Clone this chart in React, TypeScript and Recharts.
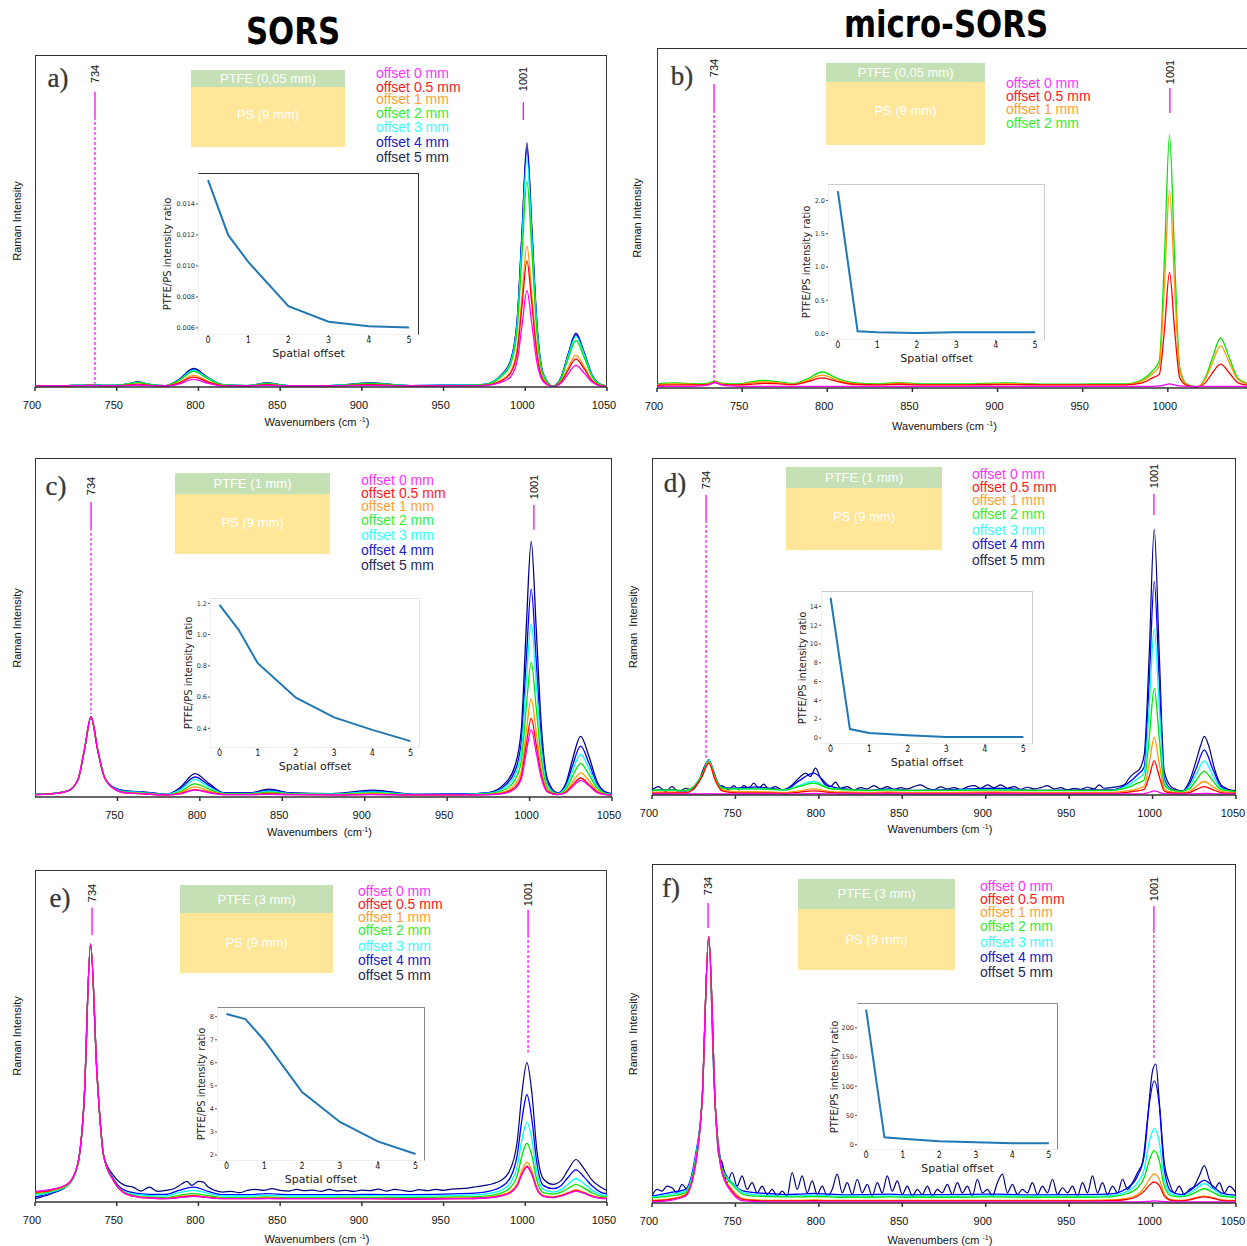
import React from "react";
import { LineChart, Line, XAxis, YAxis, ReferenceLine } from "recharts";

// shared wavenumber grid (cm-1) for the smooth spectra
const WAVENUMBERS = [
  700, 710, 720, 726, 730, 734, 738, 742, 748, 755, 763, 770, 780, 788, 797, 806, 815, 830, 842, 855,
  880, 905, 930, 960, 975, 985, 991, 995, 998, 1001, 1004, 1007, 1011, 1017, 1022, 1026, 1031, 1036,
  1041, 1046, 1050,
];

// a) SORS, PTFE 0.05 mm  (intensity as % of panel height)
const A_OFF0 = [0.3,0.3,0.3,0.4,0.4,0.5,0.4,0.3,0.3,0.4,0.6,0.4,0.3,0.9,2.3,1.1,0.3,0.3,0.5,0.3,0.3,0.5,0.3,0.3,0.4,1.4,3.1,7.8,18.5,29,19,7.8,1.6,0.1,1.2,3.8,6.5,4.2,1.4,0.3,0.2];
const A_OFF05 = [0.3,0.3,0.3,0.4,0.4,0.5,0.4,0.4,0.4,0.5,0.8,0.5,0.3,1.2,3,1.5,0.4,0.3,0.7,0.3,0.3,0.7,0.3,0.4,0.5,1.8,4.2,10.3,24.4,38,25,10.4,2.1,0.1,1.6,4.9,8.5,5.5,1.8,0.4,0.2];
const A_OFF1 = [0.3,0.3,0.3,0.4,0.4,0.5,0.4,0.4,0.4,0.5,0.9,0.5,0.3,1.4,3.5,1.7,0.5,0.3,0.7,0.3,0.3,0.7,0.3,0.4,0.5,2,4.6,11.6,27.3,42.5,28,11.6,2.3,0.1,1.8,5.6,9.5,6.2,2,0.5,0.2];
const A_OFF2 = [0.4,0.4,0.4,0.5,0.5,0.6,0.5,0.5,0.5,0.7,1.3,0.7,0.4,1.9,4.7,2.4,0.6,0.4,1,0.4,0.4,1,0.4,0.5,0.7,3,6.8,17,40,62,41,17,3.4,0.2,2.6,8.2,14,9,3,0.7,0.3];
const A_OFF3 = [0.4,0.4,0.4,0.5,0.5,0.7,0.6,0.5,0.5,0.8,1.4,0.8,0.4,2,5.1,2.6,0.7,0.4,1.1,0.4,0.4,1.1,0.4,0.6,0.8,3.3,7.5,18.8,44,69,45,18.8,3.8,0.2,2.8,8.9,15.2,9.9,3.3,0.8,0.3];
const A_OFF4 = [0.4,0.4,0.4,0.5,0.5,0.7,0.6,0.5,0.5,0.8,1.4,0.8,0.4,2.1,5.4,2.7,0.7,0.4,1.1,0.4,0.4,1.1,0.4,0.6,0.8,3.4,7.8,19.6,46,72,47,19.6,3.9,0.2,2.9,9.3,15.8,10.2,3.4,0.8,0.3];
const A_OFF5 = [0.4,0.4,0.4,0.5,0.5,0.7,0.6,0.5,0.5,0.8,1.5,0.8,0.4,2.2,5.6,2.8,0.7,0.4,1.2,0.4,0.4,1.2,0.4,0.6,0.8,3.5,8,20,47,73.5,48,20,4,0.2,3,9.5,16.2,10.5,3.5,0.8,0.3];

// b) micro-SORS, PTFE 0.05 mm
const B_OFF0 = [0.5,0.5,0.5,0.6,0.9,1.6,0.9,0.6,0.5,0.5,0.5,0.5,0.5,0.5,0.5,0.5,0.5,0.5,0.5,0.5,0.5,0.5,0.5,0.5,0.5,0.5,0.5,0.6,0.9,1.2,0.9,0.6,0.5,0.5,0.5,0.5,0.5,0.5,0.5,0.5,0.5];
const B_OFF05 = [0.8,0.9,0.9,0.9,1,1.6,1,0.9,0.9,1.1,1.4,1.3,1,1.8,3,1.9,1.1,0.9,1.1,0.9,0.9,1,0.9,0.9,0.9,1.5,3,4,17,34,17,3,0.8,0.3,1.5,4.3,7,4.5,1.6,0.9,0.8];
const B_OFF1 = [1,1.2,1.1,1,1.2,1.7,1.2,1,1,1.5,1.8,1.6,1.1,2.2,3.8,2.3,1.3,1,1.4,1,1,1.3,1,1,1,2.1,4.2,6.5,30,58,30,5,1,0.3,2.6,7.2,12.4,7.6,2.6,1.3,0.9];
const B_OFF2 = [1.2,1.5,1.3,1.2,1.4,2,1.4,1.2,1.2,1.8,2.2,1.9,1.3,2.6,4.7,2.8,1.6,1.2,1.6,1.2,1.2,1.5,1.1,1.2,1.2,2.5,5,8,38,74.4,38,6,1.2,0.3,3,8.5,14.7,9,3,1.5,1];

// c) SORS, PTFE 1 mm
const C_OFF0 = [0.7,0.9,1.8,5,14,23.6,14,6,2.4,1.2,1,0.8,0.6,0.9,2,1.2,0.7,0.7,0.8,0.7,0.6,0.7,0.6,0.6,0.7,1.1,2.4,5.3,13.2,19.9,13.2,5.8,1.4,0.7,1.3,3,4.9,3.3,1.3,0.7,0.6];
const C_OFF05 = [0.7,0.9,1.8,5,14,23.6,14,6,2.4,1.2,1,0.8,0.6,1,2.2,1.3,0.7,0.7,0.9,0.7,0.6,0.8,0.6,0.6,0.7,1.3,2.8,6.2,15.5,23.2,15.5,6.8,1.6,0.7,1.4,3.5,5.6,3.7,1.5,0.7,0.6];
const C_OFF1 = [0.7,0.9,1.8,5,14,23.6,14,6,2.4,1.3,1.1,0.9,0.6,1.3,3,1.7,0.8,0.8,1.1,0.8,0.7,1,0.6,0.6,0.8,1.6,3.6,7.7,19.3,29,19.3,8.5,2,0.8,1.7,4.4,7.1,4.8,1.9,0.8,0.6];
const C_OFF2 = [0.8,1,1.8,5,14,23.6,14,6,2.5,1.4,1.2,1,0.7,1.6,3.9,2.2,0.9,0.9,1.4,0.9,0.8,1.2,0.7,0.7,1,2.2,4.9,10.6,26.5,39.7,26.5,11.7,2.7,0.9,2.3,6.1,9.9,6.6,2.6,1,0.7];
const C_OFF3 = [0.8,1,1.8,5,14,23.6,14,6,2.6,1.6,1.4,1.1,0.8,2.1,5.1,2.8,1,1,1.7,1,0.9,1.5,0.8,0.8,1.1,2.9,6.3,13.6,34,51,34,15,3.4,1,2.9,7.7,12.6,8.4,3.2,1.1,0.8];
const C_OFF4 = [0.8,1,1.8,5,14,23.6,14,6,2.7,1.7,1.5,1.2,0.8,2.4,5.9,3.3,1.1,1.1,2,1.1,0.9,1.7,0.8,0.9,1.2,3.4,7.5,16.3,40.5,61.3,40.5,17.8,4.1,1.1,3.4,9.2,15,10,3.8,1.3,0.9];
const C_OFF5 = [0.8,1,1.8,5,14,23.6,14,6,2.8,1.8,1.6,1.3,0.8,2.8,6.9,3.8,1.2,1.2,2.3,1.2,1,2,0.8,0.9,1.3,4,9,20,50,75.4,50,22,5,1.2,4,11,17.9,12,4.5,1.5,1];

// d) micro-SORS, PTFE 1 mm
const D_OFF0 = [0.3,0.3,0.3,0.3,0.3,0.4,0.3,0.3,0.3,0.3,0.3,0.3,0.3,0.3,0.5,0.3,0.3,0.3,0.3,0.3,0.3,0.3,0.3,0.3,0.3,0.3,0.3,0.4,0.8,1.2,0.8,0.4,0.3,0.3,0.3,0.4,0.5,0.4,0.3,0.3,0.3];
const D_OFF05 = [0.5,0.6,0.6,2.5,5.5,9.5,4.3,1.2,0.7,0.6,0.6,0.6,0.5,0.8,1.2,0.8,0.6,0.5,0.6,0.5,0.5,0.6,0.5,0.5,0.5,0.8,1.2,1.7,5.5,10.1,5.5,1.2,0.6,0.5,0.7,1.6,2.5,1.6,0.7,0.5,0.5];
const D_OFF1 = [0.8,0.9,0.8,2.5,5.5,9.8,4.5,1.5,1.1,1,1,0.9,0.8,1.2,1.8,1.1,0.9,0.8,0.9,0.8,0.8,0.9,0.8,0.8,0.8,1.2,1.8,2.6,9.3,17.1,9.3,1.8,0.9,0.7,1.1,2.5,4,2.5,1.1,0.8,0.7];
const D_OFF2 = [1.4,1.5,1.4,3,6,10,5,2,1.8,1.8,1.8,1.7,1.5,2.5,3.5,2,1.6,1.4,1.5,1.4,1.4,1.5,1.4,1.4,1.4,2.2,3.5,4.5,17,31.6,17,3,1.5,1.1,1.8,4.3,7,4.3,1.6,1.3,1];
const D_OFF3 = [1.3,1.4,1.2,3,6,10.4,5,2.1,1.8,1.8,1.9,1.7,1.5,2.8,4,2.1,1.6,1.3,1.5,1.3,1.4,1.6,1.3,1.3,1.3,2.8,4.8,6.6,26.5,49.3,26.5,4,1.5,1,2.5,6,10.1,6,2,1.2,0.9];
const D_OFF4 = [1.4,1.6,1.1,3,6,10.4,5,2.3,2,2.2,2.4,2,1.6,4.2,6.5,2.8,1.8,1.4,1.8,1.4,1.6,2,1.4,1.5,1.5,3.4,6,8.3,34,63.4,34,5,1.8,1,3.2,7.7,13.4,7.8,2.5,1.3,0.9];
// offset 5 mm in d) is noisy, so it has its own sampling
const D_OFF5_X = [700,704,708,712,716,720,724,728,731,734,737,740,743,746,749,752,755,758,761,764,767,770,774,778,782,786,789,792,795,798,801,804,807,810,813,817,821,825,829,833,837,841,845,849,853,857,861,865,869,873,877,881,885,889,893,897,901,905,909,913,917,921,925,929,933,937,941,945,949,953,957,961,965,968,971,975,979,983,986,989,992,995,998,1001,1004,1007,1011,1015,1018,1022,1026,1029,1031,1034,1037,1041,1045,1050];
const D_OFF5_Y = [1.5,2.5,1,2.5,0.8,2,1.5,4,8,10.4,7,3,2.5,1.5,2.8,1.5,2.8,2,3.5,2,3.2,1.8,2.5,1.5,2.2,4,5.5,6.5,5.5,8,5,3,2.5,3.8,2,2.5,1.5,2.2,1.8,2.8,1.8,2.5,1.6,2.2,1.8,2.5,3,2,1.6,2.4,1.8,2.2,1.6,2.4,2.8,2,3,2.2,3,2,2.5,1.7,2.3,1.8,2.2,2.8,1.8,2.2,1.5,2,1.7,2.3,1.8,3,2,2.2,2.5,3,5,6.5,7.5,12,42,78.8,42,7,2.5,1.5,1.2,4,10,15,17.4,14,8,3,1.8,1.2];

// e) SORS, PTFE 3 mm
const E_OFF0 = [3.2,3.8,5.5,11.2,30,77.7,38,14,6.5,2.6,1.5,1.2,1,1.3,1.7,1.3,1,1,1,1,1,1,0.9,1,1.2,1.8,2.8,4.9,8.3,10.5,8.3,4,1.7,1.3,1.8,2.5,3.3,2.6,1.6,1.1,1];
const E_OFF05 = [3,3.6,5.4,11,30,77.7,38,14,6.5,2.6,1.5,1.2,1,1.4,1.8,1.4,1,1,1.1,1,1,1,0.9,1,1.2,1.9,2.9,5,8.5,10.8,8.5,4.1,1.8,1.4,1.9,2.6,3.4,2.7,1.7,1.2,1];
const E_OFF1 = [2.8,3.5,5.3,11,30,77.7,38,14,6.5,2.7,1.6,1.3,1.1,1.6,2,1.5,1.1,1.1,1.2,1.1,1.1,1.1,1,1.2,1.4,2.1,3.2,5.5,9.5,12,9.5,4.6,2,1.6,2.1,2.8,3.7,2.9,1.9,1.3,1.1];
const E_OFF2 = [2.5,3.3,5.2,11,30,77.7,38,14,6.5,2.8,1.8,1.5,1.3,2,2.5,1.9,1.3,1.3,1.5,1.3,1.3,1.4,1.3,1.5,1.8,2.7,4.4,7.8,14,17.7,14,6.7,2.8,2.4,3,4,5.3,4.2,2.7,1.8,1.5];
const E_OFF3 = [2,3,5,11,30,77.7,38,14,6.5,3,2.2,1.9,1.8,2.8,3.5,2.6,1.8,1.8,2,1.8,1.8,1.9,1.8,2,2.4,3.5,5.8,10.5,19,24,19,9,3.8,3,3.8,5.3,7,5.5,3.5,2.3,1.9];
const E_OFF4 = [1.5,2.8,5,11,30,77.7,38,14,7,3.5,2.6,2.3,2.3,3.5,4.5,3.2,2.2,2.2,2.5,2.2,2.2,2.3,2.2,2.5,3,4.5,7.5,14,25,32.3,25,12,5,4,5,7.3,9.7,7.5,4.8,3,2.5];
const E_OFF5_X = [700,710,720,726,730,734,738,742,748,755,760,765,770,775,780,785,790,793,796,800,803,806,810,815,820,825,830,835,840,845,850,855,860,865,870,875,880,885,890,895,900,905,910,915,920,925,930,935,940,945,950,955,960,965,970,975,980,985,990,995,998,1001,1004,1007,1011,1017,1022,1026,1031,1036,1041,1046,1050];
const E_OFF5_Y = [1,2.5,5,11,30,77.7,38,14,8,5,4.5,3.3,4.5,3.2,3.5,4,5.5,6.2,5,6.2,6,4.5,3.5,3,3.2,2.8,3.5,3.8,3.5,4,3.5,3.3,3.8,3.4,3.6,3.2,3.8,3.3,3.5,3.2,3.6,3.4,3.9,3.3,3.8,3.5,3.2,3.7,3.4,3.8,3.5,3.9,4,4.2,4.6,5,5.5,6.5,9,18,33,42,33,16,7,5.3,6.5,9.5,12.8,10,6.5,4.5,3.5];

// f) micro-SORS, PTFE 3 mm
const F_OFF0 = [0.3,0.7,2,11,30,78.6,28,9,3,0.6,0.4,0.3,0.3,0.3,0.3,0.3,0.3,0.3,0.3,0.3,0.3,0.3,0.3,0.3,0.3,0.3,0.3,0.4,0.5,0.6,0.5,0.4,0.3,0.3,0.3,0.3,0.3,0.3,0.3,0.3,0.3];
const F_OFF05 = [0.6,1,2.3,11,30,78.6,28,9,3.5,1,0.7,0.6,0.6,0.6,0.7,0.6,0.6,0.6,0.6,0.6,0.6,0.6,0.6,0.6,0.7,1.1,2,3.5,5.2,6.2,5.2,2.1,0.8,0.6,0.9,1.4,1.8,1.4,0.8,0.6,0.6];
const F_OFF1 = [0.8,1.2,2.5,11,30,78.6,28,9,4,1.2,0.9,0.8,0.8,0.8,0.9,0.8,0.8,0.8,0.8,0.8,0.8,0.8,0.8,0.8,0.9,1.4,2.5,4.5,7,8.6,7,2.8,1,0.8,1.1,1.6,2,1.6,1,0.8,0.8];
const F_OFF2 = [1.5,2,3,12,30,78.6,28,10,5.5,2.5,2,1.9,1.8,1.8,1.9,1.8,1.7,1.7,1.8,1.7,1.7,1.8,1.7,1.7,1.8,2.8,4.5,7.5,12.5,15.5,12.5,5,2.2,1.8,2.3,3.2,4.2,3.2,2,1.8,1.7];
const F_OFF3 = [1.8,2.5,3.5,13,30,78.6,28,10,6,3,2.4,2.2,2,2.1,2.3,2.1,2,2,2.1,2,2,2.1,2,2,2.2,3.5,6,10,18,22,18,7,2.8,2,2.8,4.2,5.7,4.2,2.5,2,1.9];
const F_OFF4 = [2,3,4,14,30,78.6,28,11,6,3.5,3,2.8,2.5,2.6,2.8,2.6,2.4,2.5,2.6,2.4,2.5,2.6,2.4,2.5,2.7,4.5,8,14,29,36,29,10,3.5,2.5,3.5,5,6.7,5,3,2.5,2.3];
const F_OFF5_X = [700,703,706,709,712,715,718,721,724,727,730,734,737,740,742,745,748,751,754,757,760,763,766,769,772,775,778,781,784,787,790,793,796,799,802,805,808,811,814,817,820,823,826,829,832,835,838,841,844,847,850,853,856,859,862,865,868,871,874,877,880,883,886,889,892,895,898,901,904,907,910,913,916,919,922,925,928,931,934,937,940,943,946,949,952,955,958,961,964,967,970,973,976,979,982,985,988,991,994,997,1000,1002,1004,1007,1010,1013,1016,1019,1022,1025,1028,1031,1034,1037,1040,1043,1046,1050];
const F_OFF5_Y = [2,4,3.5,5,4.5,3,5.5,4,7,15,30,78.6,38,14,12,6,9,5,8,4,6,3,5,2.5,4,2,3.5,2,9,4,8,3,6.5,2.5,5,2,4,8.5,3,6,2.5,7,3,5.5,2,6,3,8,3.5,6.5,2.5,5,2,4,2.5,5,2,4,3,5.5,2.5,6,3,5,2,7,3,4,2,6,8.5,3,5.5,2.5,4,3,6,2.5,5,3,7,2.5,4.5,3,5,2,6,3,8,3,6,2.5,5,3,7,4,6,9,12,25,39,41,30,12,6,3,5,2.5,4,5,8,11,7,4,6,3,5,3];

// insets: PTFE/PS intensity ratio vs spatial offset
const SPATIAL_OFFSETS = [0, 0.5, 1, 2, 3, 4, 5];
const A_RATIO = [0.01554, 0.012, 0.01026, 0.0074, 0.0064, 0.0061, 0.00602];
const B_RATIO = [2.14, 0.035, 0.02, 0.01, 0.02, 0.02, 0.02];
const C_RATIO = [1.19, 1.03, 0.817, 0.596, 0.47, 0.39, 0.318];
const D_RATIO = [14.9, 0.95, 0.53, 0.28, 0.1, 0.1, 0.1];
const E_RATIO = [8.12, 7.9, 6.97, 4.73, 3.43, 2.59, 2.04];
const F_RATIO = [231, 12.6, 10.3, 5.7, 4, 2.3, 2.3];

const OFFSET_LABELS = ["offset 0 mm", "offset 0.5 mm", "offset 1 mm", "offset 2 mm", "offset 3 mm", "offset 4 mm", "offset 5 mm"];
const LINE_COLORS = ["#ff00ff", "#ff0000", "#ff9900", "#00e600", "#00ffff", "#0000ff", "#000080"];
const TEXT_COLORS = ["#ff33ff", "#ff1a1a", "#ffa033", "#33ee33", "#33ffff", "#2020cc", "#1f2a55"];
const X_TICKS = [700, 750, 800, 850, 900, 950, 1000, 1050];

const SANS = '"Liberation Sans", Arial, sans-serif';
const DEJAVU = '"DejaVu Sans", sans-serif';

type Marker = { x: number; solid: [number, number]; dashed?: [number, number]; label: string; lx: number; ly: number };

type Panel = {
  letter: string;
  left: number; top: number; right: number; bottom: number;
  xMax: number;
  ticks: number[];
  series: number[][];
  noisy?: { x: number[]; y: number[] };
  noRight?: boolean;
  markers: Marker[];
  yTitle: string; yTitleX: number;
  xTitle: React.ReactNode; xTitleY: number;
  letterX: number; letterY: number;
  legendX: number; legendY: number[];
  box: { x: number; w: number; g0: number; g1: number; y1: number; ptfe: string; ty1: number; ty2: number };
  inset: { left: number; right: number; top: number; bottom: number; values: number[]; domain: [number, number]; ticks: number[]; dec: number; border: string; labelDx: number };
};

const cm = (
  <>Wavenumbers (cm <sup style={{ fontSize: 7 }}>-1</sup>)</>
);
const cm2 = (
  <>Wavenumbers&nbsp;&nbsp;(cm<sup style={{ fontSize: 7 }}>-1</sup>)</>
);

const PANELS: Panel[] = [
  {
    letter: "a)", left: 35, top: 55, right: 607, bottom: 387, xMax: 1050, ticks: X_TICKS,
    series: [A_OFF0, A_OFF05, A_OFF1, A_OFF2, A_OFF3, A_OFF4, A_OFF5],
    markers: [
      { x: 736.7, solid: [88.9, 81.3], dashed: [81.3, 1], label: "734", lx: 95, ly: 74 },
      { x: 998.8, solid: [85.8, 80.4], label: "1001", lx: 523, ly: 79 },
    ],
    yTitle: "Raman Intensity", yTitleX: 17, xTitle: cm, xTitleY: 422, letterX: 58, letterY: 78,
    legendX: 376, legendY: [73, 87, 99, 113, 127, 142, 157],
    box: { x: 191, w: 154, g0: 70, g1: 87, y1: 147, ptfe: "PTFE (0,05 mm)", ty1: 78, ty2: 114 },
    inset: { left: 198, right: 419, top: 173, bottom: 335, values: A_RATIO, domain: [0.00554, 0.016], ticks: [0.006, 0.008, 0.01, 0.012, 0.014], dec: 3, border: "#333", labelDx: 31 },
  },
  {
    letter: "b)", left: 657, top: 48, right: 1247, bottom: 388, xMax: 1046.5, ticks: X_TICKS.slice(0, 7),
    series: [B_OFF0, B_OFF05, B_OFF1, B_OFF2], noRight: true,
    markers: [
      { x: 733.5, solid: [89.4, 81.8], dashed: [81.8, 1.5], label: "734", lx: 714, ly: 68 },
      { x: 1001.2, solid: [88.2, 80.9], label: "1001", lx: 1170, ly: 72 },
    ],
    yTitle: "Raman Intensity", yTitleX: 637, xTitle: cm, xTitleY: 426, letterX: 682, letterY: 76,
    legendX: 1006, legendY: [83, 96, 109, 123],
    box: { x: 826, w: 159, g0: 63, g1: 82, y1: 145, ptfe: "PTFE (0,05 mm)", ty1: 72, ty2: 110 },
    inset: { left: 828, right: 1045, top: 184, bottom: 340, values: B_RATIO, domain: [-0.097, 2.247], ticks: [0, 0.5, 1, 1.5, 2], dec: 1, border: "#ccc", labelDx: 22 },
  },
  {
    letter: "c)", left: 35, top: 458, right: 612, bottom: 797, xMax: 1050, ticks: X_TICKS.slice(1),
    series: [C_OFF0, C_OFF05, C_OFF1, C_OFF2, C_OFF3, C_OFF4, C_OFF5],
    markers: [
      { x: 734, solid: [87, 79.4], dashed: [79.4, 24.5], label: "734", lx: 91, ly: 486 },
      { x: 1002.6, solid: [86.1, 78.8], label: "1001", lx: 534, ly: 487 },
    ],
    yTitle: "Raman Intensity", yTitleX: 17, xTitle: cm2, xTitleY: 832, letterX: 56, letterY: 486,
    legendX: 361, legendY: [480, 493, 506, 520, 535, 550, 565],
    box: { x: 175, w: 155, g0: 473, g1: 494, y1: 554, ptfe: "PTFE (1 mm)", ty1: 483, ty2: 522 },
    inset: { left: 210, right: 420, top: 598, bottom: 748, values: C_RATIO, domain: [0.274, 1.234], ticks: [0.4, 0.6, 0.8, 1.0, 1.2], dec: 1, border: "#e3e3e3", labelDx: 22 },
  },
  {
    letter: "d)", left: 652, top: 458, right: 1236, bottom: 795, xMax: 1050, ticks: X_TICKS,
    series: [D_OFF0, D_OFF05, D_OFF1, D_OFF2, D_OFF3, D_OFF4],
    noisy: { x: D_OFF5_X, y: D_OFF5_Y },
    markers: [
      { x: 732.4, solid: [89, 81.6], dashed: [81.6, 11], label: "734", lx: 706, ly: 480 },
      { x: 1000.8, solid: [89.3, 83.1], label: "1001", lx: 1154, ly: 476 },
    ],
    yTitle: "Raman  Intensity", yTitleX: 633, xTitle: cm, xTitleY: 829, letterX: 675, letterY: 483,
    legendX: 972, legendY: [474, 487, 500, 514, 530, 544, 560],
    box: { x: 786, w: 156, g0: 467, g1: 488, y1: 550, ptfe: "PTFE (1 mm)", ty1: 477, ty2: 516 },
    inset: { left: 821, right: 1033, top: 591, bottom: 744, values: D_RATIO, domain: [-0.64, 15.64], ticks: [0, 2, 4, 6, 8, 10, 12, 14], dec: 0, border: "#ccc", labelDx: 19 },
  },
  {
    letter: "e)", left: 35, top: 870, right: 607, bottom: 1202, xMax: 1050, ticks: X_TICKS,
    series: [E_OFF0, E_OFF05, E_OFF1, E_OFF2, E_OFF3, E_OFF4],
    noisy: { x: E_OFF5_X, y: E_OFF5_Y },
    markers: [
      { x: 734.9, solid: [88.6, 80.4], label: "734", lx: 92, ly: 893 },
      { x: 1001.7, solid: [88, 80.4], dashed: [80.4, 45], label: "1001", lx: 528, ly: 894 },
    ],
    yTitle: "Raman Intensity", yTitleX: 17, xTitle: cm, xTitleY: 1239, letterX: 60, letterY: 898,
    legendX: 358, legendY: [891, 904, 917, 930, 946, 960, 975],
    box: { x: 180, w: 153, g0: 885, g1: 913, y1: 973, ptfe: "PTFE (3 mm)", ty1: 899, ty2: 942 },
    inset: { left: 217, right: 425, top: 1007, bottom: 1161, values: E_RATIO, domain: [1.736, 8.424], ticks: [2, 3, 4, 5, 6, 7, 8], dec: 0, border: "#888", labelDx: 16 },
  },
  {
    letter: "f)", left: 652, top: 864, right: 1236, bottom: 1203, xMax: 1050, ticks: X_TICKS,
    series: [F_OFF0, F_OFF05, F_OFF1, F_OFF2, F_OFF3, F_OFF4],
    noisy: { x: F_OFF5_X, y: F_OFF5_Y },
    markers: [
      { x: 733.6, solid: [88.5, 81.1], label: "734", lx: 708, ly: 886 },
      { x: 1000.8, solid: [87.6, 80.5], dashed: [80.5, 42.8], label: "1001", lx: 1154, ly: 889 },
    ],
    yTitle: "Raman  Intensity", yTitleX: 633, xTitle: cm, xTitleY: 1240, letterX: 671, letterY: 888,
    legendX: 980, legendY: [886, 899, 912, 926, 942, 957, 972],
    box: { x: 798, w: 157, g0: 879, g1: 909, y1: 970, ptfe: "PTFE (3 mm)", ty1: 893, ty2: 939 },
    inset: { left: 857, right: 1058, top: 1003, bottom: 1150, values: F_RATIO, domain: [-9.1, 242.4], ticks: [0, 50, 100, 150, 200], dec: 0, border: "#888", labelDx: 23 },
  },
];

const abs = (x: number, y: number, extra: React.CSSProperties = {}): React.CSSProperties => ({
  position: "absolute", left: x, top: y, whiteSpace: "nowrap", ...extra,
});

function Centered({ x, y, children, style, sx = 1 }: { x: number; y: number; children: React.ReactNode; style?: React.CSSProperties; sx?: number }) {
  return <div style={abs(x, y, { transform: `translate(-50%, -50%) scaleX(${sx})`, ...style })}>{children}</div>;
}

function Rotated({ x, y, children, style }: { x: number; y: number; children: React.ReactNode; style?: React.CSSProperties }) {
  return <div style={abs(x, y, { transform: "translate(-50%, -50%) rotate(-90deg)", ...style })}>{children}</div>;
}

function SpectrumPanel({ p }: { p: Panel }) {
  const w = p.right - p.left;
  const h = p.bottom - p.top;
  const rows = WAVENUMBERS.map((x, i) => {
    const r: { [k: string]: number } = { x };
    p.series.forEach((s, k) => {
      r["s" + k] = s[i];
    });
    return r;
  });
  const noisyRows = p.noisy ? p.noisy.x.map((x, i) => ({ x, y: p.noisy!.y[i] })) : [];
  const order = p.series.map((_, k) => k).reverse();
  return (
    <>
      <div style={abs(p.left, p.top, { width: w, height: h, boxSizing: "border-box", borderTop: "1px solid #333", borderLeft: "1px solid #333", borderRight: p.noRight ? "none" : "1px solid #333" })} />
      <div style={abs(p.left - 20, p.top - 10)}>
        <LineChart width={w + 40} height={h + 40} margin={{ top: 10, right: 20, bottom: 0, left: 20 }} data={rows}>
          <XAxis
            type="number" dataKey="x" domain={[700, p.xMax]} ticks={p.ticks} interval={0} allowDataOverflow
            height={30} tickSize={4} tickMargin={10} stroke="#333" strokeWidth={1.5}
            tick={{ fontSize: 11, fill: "#111", fontFamily: SANS, dx: -3 }}
          />
          <YAxis hide domain={[0, 100]} allowDataOverflow />
          {p.noisy && (
            <Line data={noisyRows} dataKey="y" stroke={LINE_COLORS[6]} strokeWidth={1.2} dot={false} type="monotone" isAnimationActive={false} />
          )}
          {order.map((k) => (
            <Line key={k} dataKey={"s" + k} stroke={LINE_COLORS[k]} strokeWidth={1.3} dot={false} type="monotone" isAnimationActive={false} />
          ))}
          {p.markers.map((m, i) => (
            <ReferenceLine key={"s" + i} segment={[{ x: m.x, y: m.solid[0] }, { x: m.x, y: m.solid[1] }]} stroke="#ff00ff" strokeWidth={1.3} />
          ))}
          {p.markers.filter((m) => m.dashed).map((m, i) => (
            <ReferenceLine key={"d" + i} segment={[{ x: m.x, y: m.dashed![0] }, { x: m.x, y: m.dashed![1] }]} stroke="#ff00ff" strokeWidth={1.2} strokeDasharray="3 2" />
          ))}
        </LineChart>
      </div>
      {p.markers.map((m, i) => (
        <Rotated key={i} x={m.lx} y={m.ly} style={{ fontSize: 11, fontFamily: SANS, color: "#111" }}>{m.label}</Rotated>
      ))}
      <Rotated x={p.yTitleX} y={(p.top + p.bottom) / 2} style={{ fontSize: 11, fontFamily: SANS, color: "#111", whiteSpace: "pre" }}>{p.yTitle}</Rotated>
      <Centered x={(p.left + Math.min(p.right, 1240)) / 2 - 4} y={p.xTitleY} style={{ fontSize: 11, fontFamily: SANS, color: "#111" }}>{p.xTitle}</Centered>
      <Centered x={p.letterX} y={p.letterY} style={{ fontSize: 27, fontFamily: '"Liberation Serif", serif', color: "#3a3a3a", textShadow: "0 0 1px #888" }}>{p.letter}</Centered>
      {p.legendY.map((ly, k) => (
        <div key={k} style={abs(p.legendX, ly - 6, { fontSize: 14, lineHeight: "12px", fontFamily: SANS, color: TEXT_COLORS[k] })}>{OFFSET_LABELS[k]}</div>
      ))}
      <div style={abs(p.box.x, p.box.g0, { width: p.box.w, height: p.box.g1 - p.box.g0, background: "#c5e0b4" })} />
      <div style={abs(p.box.x, p.box.g1, { width: p.box.w, height: p.box.y1 - p.box.g1, background: "#ffe699" })} />
      <Centered x={p.box.x + p.box.w / 2} y={p.box.ty1} style={{ fontSize: 13, fontFamily: SANS, color: "#fff" }}>{p.box.ptfe}</Centered>
      <Centered x={p.box.x + p.box.w / 2} y={p.box.ty2} style={{ fontSize: 13, fontFamily: SANS, color: "#fff" }}>PS (9 mm)</Centered>
      <Inset p={p} />
    </>
  );
}

function Inset({ p }: { p: Panel }) {
  const s = p.inset;
  const w = s.right - s.left;
  const h = s.bottom - s.top;
  const rows = SPATIAL_OFFSETS.map((x, i) => ({ x, r: s.values[i] }));
  return (
    <>
      <div style={abs(s.left, s.top, { width: w, height: h, boxSizing: "border-box", background: "#fff", borderTop: `1px solid ${s.border}`, borderRight: `1px solid ${s.border}`, borderLeft: "1px solid #eee", borderBottom: "1px solid #eee" })} />
      <div style={abs(s.left - 30, s.top - 4)}>
        <LineChart width={w + 34} height={h + 4 + 16} margin={{ top: 4, right: 4, left: 0, bottom: 0 }} data={rows}>
          <XAxis type="number" dataKey="x" domain={[-0.25, 5.25]} ticks={[0, 1, 2, 3, 4, 5]} interval={0} height={16} tickSize={2} tickMargin={0} axisLine={false} stroke="#555" tick={{ fontSize: 8, fill: "#222", fontFamily: DEJAVU }} />
          <YAxis type="number" domain={s.domain} ticks={s.ticks} interval={0} allowDataOverflow width={30} tickSize={2} tickMargin={1} axisLine={false} stroke="#555" tickFormatter={(v: number) => v.toFixed(s.dec)} tick={{ fontSize: 6.5, fill: "#333", fontFamily: DEJAVU }} />
          <Line dataKey="r" stroke="#1f77b4" strokeWidth={2} dot={false} type="linear" isAnimationActive={false} />
        </LineChart>
      </div>
      <Centered x={(s.left + s.right) / 2} y={s.bottom + 18} style={{ fontSize: 11, fontFamily: DEJAVU, color: "#222" }}>Spatial offset</Centered>
      <Rotated x={s.left - s.labelDx} y={(s.top + s.bottom) / 2} style={{ fontSize: 10, fontFamily: DEJAVU, color: "#222" }}>PTFE/PS intensity ratio</Rotated>
    </>
  );
}

export default function App() {
  const title: React.CSSProperties = { fontSize: 38, fontWeight: 700, fontFamily: '"Liberation Sans Narrow", "DejaVu Sans Condensed", sans-serif', color: "#000" };
  return (
    <div style={{ position: "absolute", left: 0, top: 0, width: 1247, height: 1246, background: "#fff", overflow: "hidden" }}>
      <Centered x={293} y={31} sx={0.9} style={title}>SORS</Centered>
      <Centered x={946} y={24} sx={0.9} style={title}>micro-SORS</Centered>
      {PANELS.map((p) => (
        <SpectrumPanel key={p.letter} p={p} />
      ))}
    </div>
  );
}
